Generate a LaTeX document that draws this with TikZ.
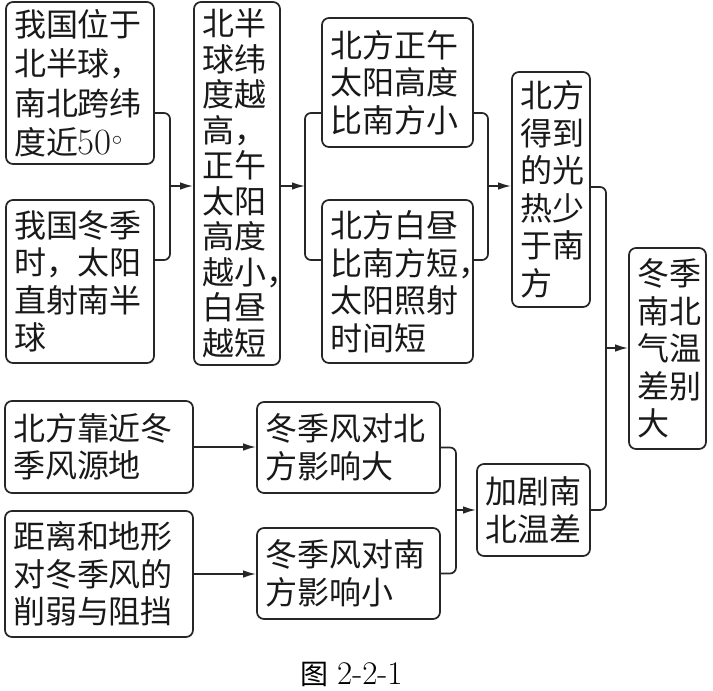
\documentclass[tikz,border=0pt]{standalone}
\usepackage{fontspec}
\newfontfamily\cjk{Noto Sans CJK SC}
\usetikzlibrary{arrows.meta}

\begin{document}
\begin{tikzpicture}[x=1pt,y=-1pt,
  bx/.style={draw=black!85,line width=1.7pt,rounded corners=7pt,align=left,inner xsep=8pt,inner ysep=0pt,font=\cjk\fontsize{32}{37.5}\selectfont,text=black!90},
  arr/.style={-{Latex[length=13pt,width=7.5pt]},line width=1.7pt,draw=black!85},
  link/.style={line width=1.7pt,draw=black!85,rounded corners=6pt}]
\useasboundingbox (0,0) rectangle (713,691);
\clip (0,0) rectangle (713,691);
\node[bx,font=\cjk\fontsize{32}{39.5}\selectfont,text width=132pt,minimum height=162pt] (a) at (80,83) {我国位于\\北半球，\\南北跨纬\\度近{\rmfamily\fontsize{37}{37}\selectfont 50}$^\circ$};
\node[bx,text width=132pt,minimum height=163pt] (b) at (80,281.5) {我国冬季\\时，太阳\\直射南半\\球};
\node[bx,font=\cjk\fontsize{32}{35.5}\selectfont,text width=70pt,minimum height=363pt] (c) at (237,183.5) {北半\\球纬\\度越\\高，\\正午\\太阳\\高度\\越小，\\白昼\\越短};
\node[bx,text width=135pt,minimum height=129pt] (d) at (397.5,82.5) {北方正午\\太阳高度\\比南方小};
\node[bx,text width=135pt,minimum height=163pt] (e) at (397.5,281.5) {北方白昼\\比南方短，\\太阳照射\\时间短};
\node[bx,text width=62pt,minimum height=235pt] (f) at (551,189.5) {北方\\得到\\的光\\热少\\于南\\方};
\node[bx,text width=61pt,minimum height=201pt] (g) at (667.5,348.5) {冬季\\南北\\气温\\差别\\大};
\node[bx,text width=172pt,minimum height=92pt] (h) at (99,447) {北方靠近冬\\季风源地};
\node[bx,text width=172pt,minimum height=126pt] (i) at (99,574) {距离和地形\\对冬季风的\\削弱与阻挡};
\node[bx,text width=167pt,minimum height=91pt] (j) at (348.5,447.5) {冬季风对北\\方影响大};
\node[bx,text width=167pt,minimum height=91pt] (k) at (348.5,573.5) {冬季风对南\\方影响小};
\node[bx,text width=97pt,minimum height=92pt] (l) at (533.5,510) {加剧南\\北温差};
\coordinate (j1) at (170,186);
\coordinate (j2) at (305,186);
\coordinate (j3) at (488,186);
\coordinate (j4) at (606,348);
\coordinate (j5) at (456,510);
\draw[link] (a.east |- 0,113) -| (j1) |- (b.east |- 0,260);
\draw[arr] (j1) -- (c.west |- j1);
\draw[arr] (c.east |- j2) -- (j2);
\draw[link] (d.west |- 0,113) -| (j2) |- (e.west |- 0,260);
\draw[link] (d.east |- 0,113) -| (j3) |- (e.east |- 0,260);
\draw[arr] (j3) -- (f.west |- j3);
\draw[link] (f.east |- 0,187) -| (j4) |- (l.east);
\draw[arr] (j4) -- (g.west |- j4);
\draw[arr] (h.east) -- (j.west |- h.east);
\draw[arr] (i.east) -- (k.west |- i.east);
\draw[link] (j.east) -| (j5) |- (k.east);
\draw[arr] (j5) -- (l.west |- j5);
\node[anchor=base west,inner sep=0pt] (cap) at (300,684) {{\cjk\fontsize{28}{28}\selectfont 图}\hspace{9pt}{\fontsize{33}{33}\selectfont 2-2-1}};
\end{tikzpicture}
\end{document}
